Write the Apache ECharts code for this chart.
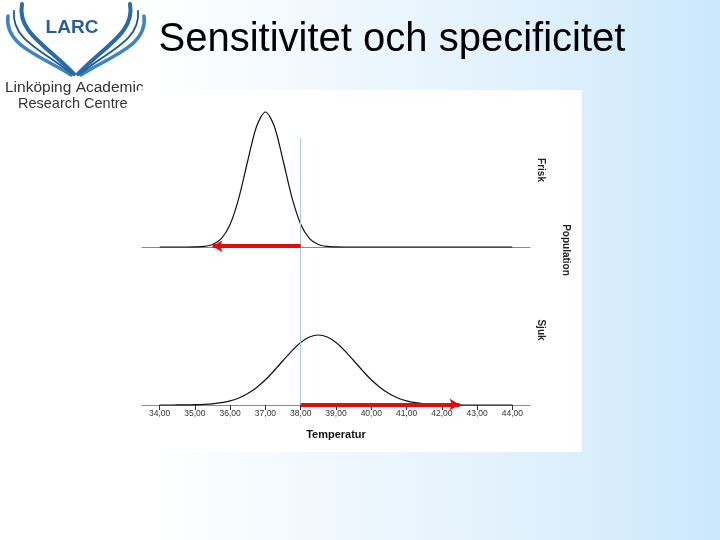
<!DOCTYPE html>
<html>
<head>
<meta charset="utf-8">
<script src="https://cdn.jsdelivr.net/npm/echarts@6/dist/echarts.min.js"></script>
<style>
html,body{margin:0;padding:0;}
#c{width:720px;height:540px;}
</style>
</head>
<body>
<div id="c"></div>
<script>
// Temperature sample points (°C)
var temps = [34,34.25,34.5,34.75,35,35.25,35.5,35.75,36,36.25,36.5,36.75,37,37.25,37.5,37.75,38,38.25,38.5,38.75,39,39.25,39.5,39.75,40,40.25,40.5,40.75,41,41.25,41.5,41.75,42,42.25,42.5,42.75,43,43.25,43.5,43.75,44];
// Healthy population (Frisk) – relative height
var frisk = [0,0,0,0,0.1,0.6,2.5,8.4,22.8,49.7,86.5,120.8,135,120.8,86.5,49.7,22.8,8.4,2.5,0.6,0.1,0,0,0,0,0,0,0,0,0,0,0,0,0,0,0,0,0,0,0,0];
// Sick population (Sjuk)
var sjuk = [0,0,0.05,0.1,0.3,0.6,1.2,2.3,4.1,7.0,11.4,17.5,25.2,34.5,44.5,54.2,62.5,68.0,70,68.0,62.5,54.2,44.5,34.5,25.2,17.5,11.4,7.0,4.1,2.3,1.2,0.6,0.3,0.1,0.05,0,0,0,0,0,0];
var tickValues = [34,35,36,37,38,39,40,41,42,43,44];
var cutoff = 38;
var friskArrowEnd = 35.5;
var sjukArrowEnd = 42.5;
var titleText = 'Sensitivitet och specificitet';

function pairs(xs, ys){ return xs.map(function(x,i){ return [x, ys[i]]; }); }

var chart = echarts.init(document.getElementById('c'), null, {renderer:'canvas'});

var font = 'Liberation Sans, Arial, sans-serif';
var xCommon = {type:'value', min:33.5, max:44.5, splitLine:{show:false}};

function wing(sx){
  return [
    {type:'bezierCurve', z:-20, shape:{x1:sx(8),y1:16,cpx1:sx(4),cpy1:46,x2:sx(71),y2:75,cpx2:sx(42),cpy2:56}, style:{stroke:'#3c84c2',lineWidth:3.5,fill:null,lineCap:'round'}},
    {type:'bezierCurve', z:-20, shape:{x1:sx(14),y1:11,cpx1:sx(11),cpy1:40,x2:sx(72),y2:74,cpx2:sx(44),cpy2:51}, style:{stroke:'#1d5a92',lineWidth:1.8,fill:null,lineCap:'round'}},
    {type:'bezierCurve', z:-20, shape:{x1:sx(22),y1:4,cpx1:sx(17),cpy1:32,x2:sx(74),y2:74,cpx2:sx(46),cpy2:45}, style:{stroke:'#2a6aa6',lineWidth:4,fill:null,lineCap:'round'}}
  ];
}
var logo = wing(function(x){return x;}).concat(wing(function(x){return 152 - x;}));
logo.push({type:'text', z:-20, style:{text:'LARC', x:72, y:28, align:'center', verticalAlign:'middle', font:'bold 19px "Liberation Sans", Arial, sans-serif', fill:'#2a5f96'}});
logo.push({type:'text', z:-20, style:{text:'Linköping Academic', x:5, y:88, align:'left', verticalAlign:'middle', font:'15.5px "Liberation Sans", Arial, sans-serif', fill:'#333333'}});
logo.push({type:'text', z:-20, style:{text:'Research Centre', x:18, y:104, align:'left', verticalAlign:'middle', font:'14.5px "Liberation Sans", Arial, sans-serif', fill:'#333333'}});

var option = {
  animation:false,
  backgroundColor:{type:'linear', x:0, y:0, x2:1, y2:0, colorStops:[{offset:0,color:'#ffffff'},{offset:0.2,color:'#ffffff'},{offset:0.75,color:'#dff0fc'},{offset:1,color:'#cbe8fc'}]},
  graphic:logo.concat([
    {type:'rect', z:-10, shape:{x:138,y:90,width:444,height:362}, style:{fill:'#ffffff'}},
    {type:'text', z:3, style:{text:titleText, x:392, y:40, align:'center', verticalAlign:'middle', font:'40px "Liberation Sans", Arial, sans-serif', fill:'#000000'}},
    {type:'text', z:3, x:541, y:170, rotation:-Math.PI/2, style:{text:'Frisk', x:0, y:0, align:'center', verticalAlign:'middle', font:'bold 10px "Liberation Sans", Arial, sans-serif', fill:'#222'}},
    {type:'text', z:3, x:566, y:250, rotation:-Math.PI/2, style:{text:'Population', x:0, y:0, align:'center', verticalAlign:'middle', font:'bold 10px "Liberation Sans", Arial, sans-serif', fill:'#222'}},
    {type:'text', z:3, x:541, y:330, rotation:-Math.PI/2, style:{text:'Sjuk', x:0, y:0, align:'center', verticalAlign:'middle', font:'bold 10px "Liberation Sans", Arial, sans-serif', fill:'#222'}}
  ]),
  grid:[
    {left:142, width:388, top:97, height:150},
    {left:142, width:388, top:325, height:80},
    {left:142, width:388, top:138, height:267}
  ],
  xAxis:[
    Object.assign({gridIndex:0, axisLine:{onZero:false, lineStyle:{color:'#8a8a8a',width:1}}, axisTick:{show:false}, axisLabel:{show:false}}, xCommon),
    Object.assign({gridIndex:1, axisLine:{onZero:false, lineStyle:{color:'#8a8a8a',width:1}},
      axisTick:{show:true, length:5, inside:false, customValues:tickValues, lineStyle:{color:'#333'}},
      axisLabel:{show:true, customValues:tickValues, margin:4, fontSize:8.5, color:'#333', fontFamily:font,
        formatter:function(v){ return v.toFixed(2).replace('.', ','); }},
      name:'Temperatur', nameLocation:'middle', nameGap:24,
      nameTextStyle:{fontSize:11, fontWeight:'bold', color:'#111', fontFamily:font}}, xCommon),
    Object.assign({gridIndex:2, show:false}, xCommon)
  ],
  yAxis:[
    {gridIndex:0, type:'value', min:0, max:150, show:false},
    {gridIndex:1, type:'value', min:0, max:80, show:false},
    {gridIndex:2, type:'value', min:0, max:1, show:false}
  ],
  series:[
    {type:'line', xAxisIndex:2, yAxisIndex:2, data:[], z:3, clip:false,
      markLine:{silent:true, symbol:['none','none'], label:{show:false},
        lineStyle:{color:'#a9c9da', width:1, type:'solid'},
        data:[[{coord:[cutoff,0]},{coord:[cutoff,1]}]]}},
    {type:'line', xAxisIndex:0, yAxisIndex:0, data:pairs(temps, frisk), smooth:0.3, showSymbol:false, clip:false, z:4,
      lineStyle:{color:'#111', width:1.2},
      markLine:{silent:true, symbol:['none','arrow'], symbolSize:[9,10], label:{show:false},
        lineStyle:{color:'#e00d0d', width:4, type:'solid'},
        data:[[{coord:[cutoff,0.8]},{coord:[friskArrowEnd,0.8]}]]}},
    {type:'line', xAxisIndex:1, yAxisIndex:1, data:pairs(temps, sjuk), smooth:0.3, showSymbol:false, clip:false, z:4,
      lineStyle:{color:'#111', width:1.2},
      markLine:{silent:true, symbol:['none','arrow'], symbolSize:[9,10], label:{show:false},
        lineStyle:{color:'#e00d0d', width:4, type:'solid'},
        data:[[{coord:[cutoff,0.6]},{coord:[sjukArrowEnd,0.6]}]]}}
  ]
};
chart.setOption(option);
</script>
</body>
</html>
